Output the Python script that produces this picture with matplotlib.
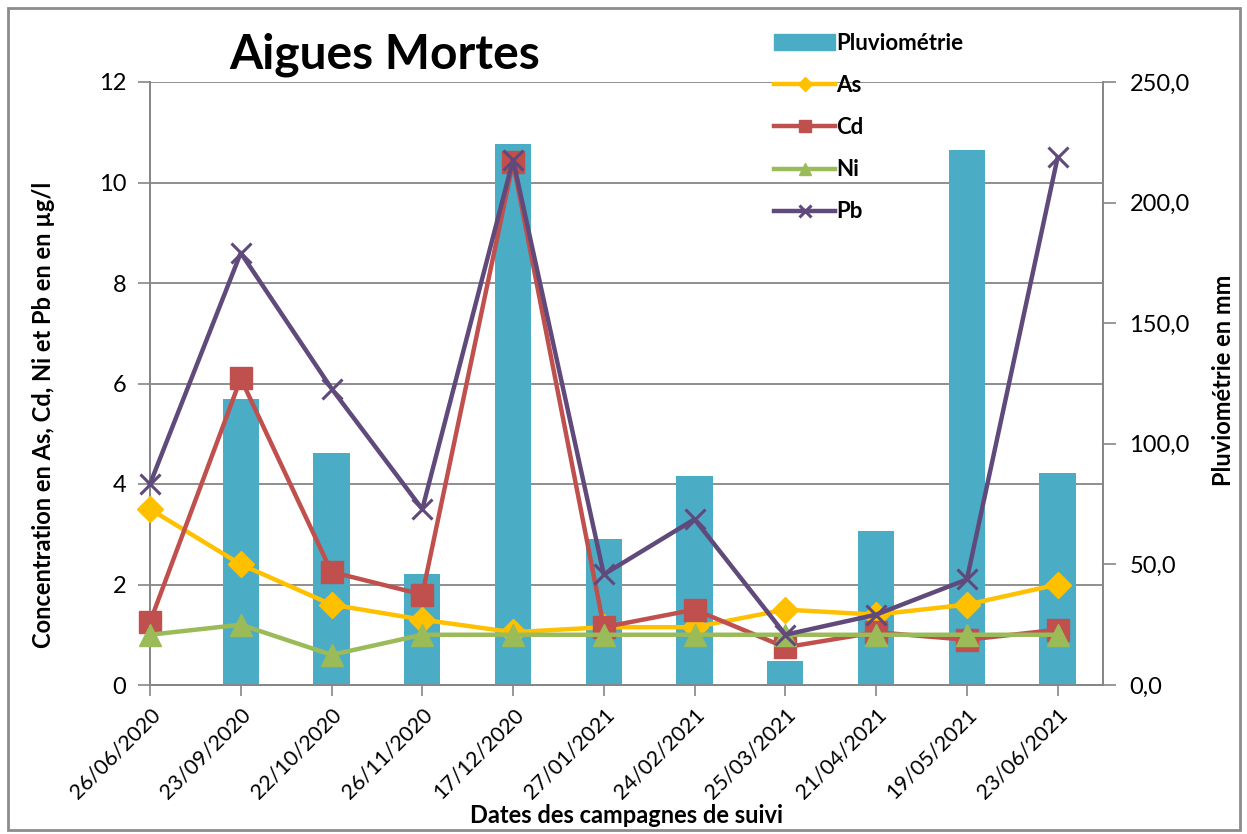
import numpy as np
import matplotlib
matplotlib.use("Agg")
import matplotlib.pyplot as plt
from matplotlib.patches import Rectangle, Patch
from matplotlib.ticker import FuncFormatter

plt.rcParams['font.family'] = ['Lato', 'DejaVu Sans']

dates = ["26/06/2020", "23/09/2020", "22/10/2020", "26/11/2020", "17/12/2020",
         "27/01/2021", "24/02/2021", "25/03/2021", "21/04/2021", "19/05/2021",
         "23/06/2021"]
pluvio = [0.0, 118.5, 96.0, 46.0, 224.5, 60.5, 86.5, 10.0, 64.0, 222.0, 88.0]
as_vals = [3.5, 2.4, 1.6, 1.3, 1.05, 1.15, 1.15, 1.5, 1.4, 1.6, 2.0]
cd_vals = [1.25, 6.1, 2.25, 1.8, 10.4, 1.15, 1.5, 0.75, 1.05, 0.9, 1.1]
ni_vals = [1.0, 1.2, 0.6, 1.0, 1.0, 1.0, 1.0, 1.0, 1.0, 1.0, 1.0]
pb_vals = [4.0, 8.6, 5.9, 3.5, 10.45, 2.2, 3.3, 1.0, 1.4, 2.1, 10.5]

c_bar = "#4BACC6"
c_as = "#FFC000"
c_cd = "#C0504D"
c_ni = "#9BBB59"
c_pb = "#604A7B"
grey = "#868686"

x = np.arange(len(dates))

fig = plt.figure(figsize=(12.47, 8.34), dpi=100)
ax = fig.add_axes([150 / 1247, 1 - 685 / 834, 953 / 1247, 603 / 834])

# base axes: left scale + grid
ax.set_xlim(0, len(dates) - 0.5)
ax.set_ylim(0, 12)
ax.set_yticks(np.arange(0, 13, 2))
ax.grid(axis='y', color=grey, lw=1.3)
ax.set_xticks(x)
ax.set_xticklabels(dates, rotation=45, ha='right', rotation_mode='anchor', fontsize=15.5)
ax.tick_params(axis='y', labelsize=17, length=9, color=grey, width=1.2, pad=8)
ax.tick_params(axis='x', length=8, color=grey, width=1.2, pad=6)
for s in ax.spines.values():
    s.set_color(grey)
    s.set_linewidth(1.3)
ax.spines['top'].set_visible(False)

# bars on right scale
ax2 = ax.twinx()
ax2.bar(x, pluvio, width=0.4, color=c_bar, zorder=2)
ax2.set_ylim(0, 250)
ax2.set_yticks(np.arange(0, 251, 50))
ax2.yaxis.set_major_formatter(FuncFormatter(lambda v, p: f"{v:.1f}".replace(".", ",")))
ax2.tick_params(axis='y', labelsize=17, length=9, color=grey, width=1.2, pad=10)
for s in ax2.spines.values():
    s.set_color(grey)
    s.set_linewidth(1.3)
ax2.spines['top'].set_visible(False)

# lines on top, left scale
ax3 = ax.twinx()
ax3.set_ylim(ax.get_ylim())
ax3.set_axis_off()
lw = 3.2
l_as, = ax3.plot(x, as_vals, color=c_as, lw=lw, marker='D', ms=13, clip_on=False)
l_cd, = ax3.plot(x, cd_vals, color=c_cd, lw=lw, marker='s', ms=16, clip_on=False)
l_ni, = ax3.plot(x, ni_vals, color=c_ni, lw=lw, marker='^', ms=16, clip_on=False)
l_pb, = ax3.plot(x, pb_vals, color=c_pb, lw=lw, marker='x', ms=15, mew=2.2, clip_on=False)

ax.set_ylabel("Concentration en As, Cd, Ni et Pb en en µg/l", fontsize=17, fontweight='bold')
ax.yaxis.set_label_coords(-0.0997, 0.448)
ax2.set_ylabel("Pluviométrie en mm", fontsize=17, fontweight='bold')
ax2.yaxis.set_label_coords(1.114, 0.506)
ax.set_xlabel("Dates des campagnes de suivi", fontsize=17, fontweight='bold')
ax.xaxis.set_label_coords(0.5, -0.198)

fig.text(385 / 1247, 1 - 55 / 834, "Aigues Mortes", fontsize=34.5, fontweight='bold',
         ha='center', va='center')

handles = [Patch(color=c_bar), l_as, l_cd, l_ni, l_pb]
labels = ["Pluviométrie", "As", "Cd", "Ni", "Pb"]
fig.legend(handles, labels, loc='upper left', bbox_to_anchor=(754 / 1247, 1 - 13 / 834),
           frameon=False, prop={'size': 16, 'weight': 'bold'}, handlelength=2.75,
           labelspacing=0.95, handletextpad=0.05, markerscale=0.55)

fig.patches.append(Rectangle((8 / 1247, 4 / 834), 1232 / 1247, 822 / 834,
                             transform=fig.transFigure, fill=False, ec="#8c8c8c", lw=2))

fig.savefig("out.png", dpi=100)
